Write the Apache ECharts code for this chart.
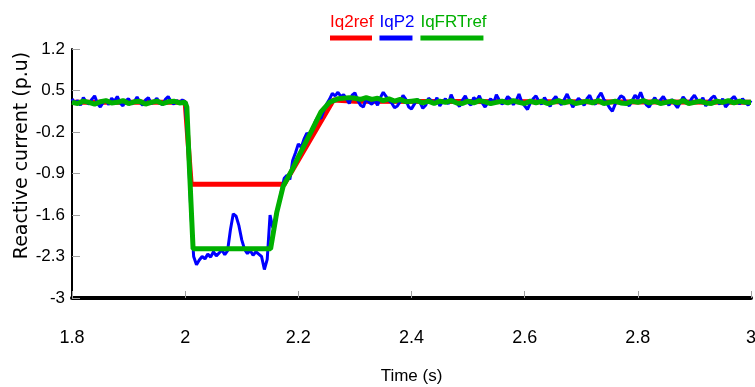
<!DOCTYPE html>
<html>
<head>
<meta charset="utf-8">
<script src="https://cdn.jsdelivr.net/npm/echarts@6/dist/echarts.min.js"></script>
<style>html,body{margin:0;padding:0;background:#fff}#c{width:755px;height:387px}</style>
</head>
<body>
<div id="c"></div>
<script>
// ---- data ----
const seriesNames = ['Iq2ref', 'IqP2', 'IqFRTref'];
const xTicks = [1.8, 2, 2.2, 2.4, 2.6, 2.8, 3];
const yTicks = [-3, -2.3, -1.6, -0.9, -0.2, 0.5, 1.2];

// Iq2ref (red) breakpoints
const redTime  = [1.8, 2.0, 2.0106, 2.175, 2.262, 2.3, 3.0];
const redValue = [0.30, 0.30, -1.08, -1.08, 0.34, 0.32, 0.30];

// IqP2 (blue) measured samples, sampled every 0.005 s from 1.8 s
const blueStart = 1.8, blueStep = 0.005;
const blueValue = [
  0.36, 0.29, 0.33, 0.25, 0.38, 0.31, 0.27, 0.35, 0.41, 0.28,
  0.22, 0.30, 0.34, 0.26, 0.37, 0.32, 0.40, 0.29, 0.24, 0.33,
  0.36, 0.27, 0.31, 0.39, 0.30, 0.25, 0.34, 0.38, 0.28, 0.32,
  0.37, 0.29, 0.26, 0.35, 0.40, 0.31, 0.27, 0.33, 0.30, 0.34,
  0.31, -0.40, -1.55, -2.30, -2.44, -2.36, -2.30, -2.34, -2.26, -2.31,
  -2.22, -2.29, -2.24, -2.19, -2.27, -2.20, -1.85, -1.58, -1.62, -1.78,
  -2.02, -2.18, -2.25, -2.20, -2.28, -2.22, -2.26, -2.30, -2.52, -2.35,
  -1.60, -1.82, -1.70, -1.42, -1.20, -0.98, -0.93, -1.00, -0.68, -0.55,
  -0.40, -0.46, -0.32, -0.22, -0.26, -0.18, -0.02, 0.06, 0.03, 0.16,
  0.27, 0.35, 0.45, 0.41, 0.47, 0.40, 0.43, 0.36, 0.28, 0.42,
  0.46, 0.33, 0.25, 0.22, 0.36, 0.30, 0.27, 0.34, 0.25, 0.38,
  0.47, 0.40, 0.33, 0.29, 0.21, 0.24, 0.31, 0.42, 0.35, 0.22,
  0.19, 0.27, 0.35, 0.30, 0.20, 0.25, 0.37, 0.33, 0.28, 0.38,
  0.24, 0.31, 0.36, 0.27, 0.43, 0.32, 0.29, 0.23, 0.34, 0.41,
  0.30, 0.25, 0.38, 0.33, 0.41, 0.29, 0.22, 0.30, 0.36, 0.28,
  0.43, 0.34, 0.27, 0.31, 0.40, 0.35, 0.26, 0.33, 0.44, 0.30,
  0.24, 0.18, 0.29, 0.36, 0.41, 0.32, 0.27, 0.38, 0.30, 0.23,
  0.34, 0.40, 0.31, 0.26, 0.35, 0.44, 0.33, 0.22, 0.29, 0.37,
  0.32, 0.25, 0.36, 0.42, 0.30, 0.27, 0.39, 0.46, 0.35, 0.29,
  0.21, 0.15, 0.27, 0.34, 0.41, 0.38, 0.28, 0.24, 0.33, 0.42,
  0.36, 0.47, 0.34, 0.26, 0.22, 0.31, 0.38, 0.29, 0.34, 0.40,
  0.32, 0.25, 0.35, 0.28, 0.21, 0.30, 0.39, 0.33, 0.27, 0.36,
  0.42, 0.34, 0.29, 0.38, 0.24, 0.31, 0.37, 0.41, 0.32, 0.27,
  0.36, 0.22, 0.28, 0.35, 0.40, 0.33, 0.27, 0.36, 0.30, 0.25,
  0.33
];

// IqFRTref (green): pre-fault samples (0.01 s from 1.80), transition breakpoints, post samples (0.01 s from 2.30)
const greenPreStart = 1.80, greenStep = 0.01;
const greenPre = [0.30, 0.28, 0.32, 0.30, 0.27, 0.31, 0.33, 0.29, 0.30, 0.33,
                  0.28, 0.31, 0.32, 0.27, 0.30, 0.32, 0.28, 0.31, 0.32, 0.29, 0.30];
const greenTransTime  = [2.003, 2.007, 2.014, 2.151, 2.162, 2.173, 2.19, 2.20, 2.224, 2.24, 2.255, 2.27, 2.29];
const greenTransValue = [0.22, -0.70, -2.17, -2.17, -1.55, -1.12, -0.82, -0.62, -0.17, 0.14, 0.30, 0.36, 0.38];
const greenPostStart = 2.30;
const greenPost = [
  0.37, 0.35, 0.38, 0.35, 0.37, 0.33, 0.36, 0.32, 0.35, 0.31,
  0.32, 0.33, 0.29, 0.32, 0.28, 0.32, 0.30, 0.33, 0.29, 0.28,
  0.32, 0.29, 0.33, 0.31, 0.28, 0.30, 0.32, 0.29, 0.33, 0.30,
  0.28, 0.32, 0.29, 0.32, 0.28, 0.30, 0.33, 0.29, 0.32, 0.28,
  0.30, 0.32, 0.29, 0.33, 0.28, 0.30, 0.32, 0.29, 0.28, 0.32,
  0.30, 0.33, 0.29, 0.32, 0.28, 0.30, 0.32, 0.29, 0.33, 0.28,
  0.30, 0.32, 0.29, 0.28, 0.32, 0.30, 0.33, 0.29, 0.32, 0.30,
  0.30
];

// ---- build ----
const r4 = v => Math.round(v * 10000) / 10000;
const redData = redTime.map((t, i) => [t, redValue[i]]);
const blueData = blueValue.map((v, i) => [r4(blueStart + i * blueStep), v]);
const greenData = []
  .concat(greenPre.map((v, i) => [r4(greenPreStart + i * greenStep), v]))
  .concat(greenTransTime.map((t, i) => [t, greenTransValue[i]]))
  .concat(greenPost.map((v, i) => [r4(greenPostStart + i * greenStep), v]));

const colors = { 'Iq2ref': '#ff0000', 'IqP2': '#0000ff', 'IqFRTref': '#00b000' };
const keys = { 'Iq2ref': 'a', 'IqP2': 'b', 'IqFRTref': 'c' };
const underlineW = { 'Iq2ref': 42, 'IqP2': 33, 'IqFRTref': 63 };
const FONT = "'Liberation Sans', Arial, sans-serif";

const rich = {};
seriesNames.forEach(n => {
  const k = keys[n];
  rich[k] = { color: colors[n], fontSize: 17, fontFamily: FONT, lineHeight: 26 };
  rich[k + 'u'] = { backgroundColor: colors[n], width: underlineW[n], height: 5, lineHeight: 5 };
});

const chart = echarts.init(document.getElementById('c'), null, { renderer: 'canvas' });
chart.setOption({
  animation: false,
  backgroundColor: '#ffffff',
  legend: {
    data: seriesNames,
    left: 320, top: 9,
    itemWidth: 0, itemHeight: 0, itemGap: 1,
    icon: 'rect',
    selectedMode: false,
    formatter: n => '{' + keys[n] + '|' + n + '}\n{' + keys[n] + 'u| }',
    textStyle: { rich: rich }
  },
  grid: { left: 72, right: 4, top: 49, bottom: 89, containLabel: false, outerBoundsMode: 'none' },
  xAxis: {
    type: 'value', min: 1.8, max: 3, interval: 0.2,
    name: 'Time (s)', nameLocation: 'middle', nameGap: 70, nameMoveOverlap: false,
    nameTextStyle: { fontFamily: FONT, fontSize: 17, color: '#000' },
    axisLine: { show: true, onZero: false, lineStyle: { color: '#000', width: 4 } },
    axisTick: { show: true, inside: true, length: 7, lineStyle: { color: '#a0a0a0', width: 1 }, customValues: xTicks },
    axisLabel: { color: '#000', fontFamily: FONT, fontSize: 18, margin: 31, customValues: xTicks },
    splitLine: { show: false }
  },
  yAxis: {
    type: 'value', min: -3, max: 1.2,
    name: 'Reactive current (p.u)', nameLocation: 'middle', nameGap: 40, nameRotate: 90, nameMoveOverlap: false,
    nameTextStyle: { fontFamily: "'DejaVu Sans', sans-serif", fontSize: 19, color: '#000', padding: [0, 0, 0, 36] },
    axisLine: { show: true, onZero: false, lineStyle: { color: '#000', width: 2 } },
    axisTick: { show: true, inside: true, length: 8, lineStyle: { color: '#a0a0a0', width: 1 }, customValues: yTicks },
    axisLabel: { color: '#000', fontFamily: FONT, fontSize: 17, margin: 7, customValues: yTicks },
    splitLine: { show: false }
  },
  series: [
    { name: 'Iq2ref', type: 'line', data: redData, showSymbol: false, z: 2,
      itemStyle: { color: colors['Iq2ref'] }, lineStyle: { color: colors['Iq2ref'], width: 5 } },
    { name: 'IqP2', type: 'line', data: blueData, showSymbol: false, z: 3,
      itemStyle: { color: colors['IqP2'] }, lineStyle: { color: colors['IqP2'], width: 3 } },
    { name: 'IqFRTref', type: 'line', data: greenData, showSymbol: false, z: 4,
      itemStyle: { color: colors['IqFRTref'] }, lineStyle: { color: colors['IqFRTref'], width: 5 } }
  ]
});
</script>
</body>
</html>
